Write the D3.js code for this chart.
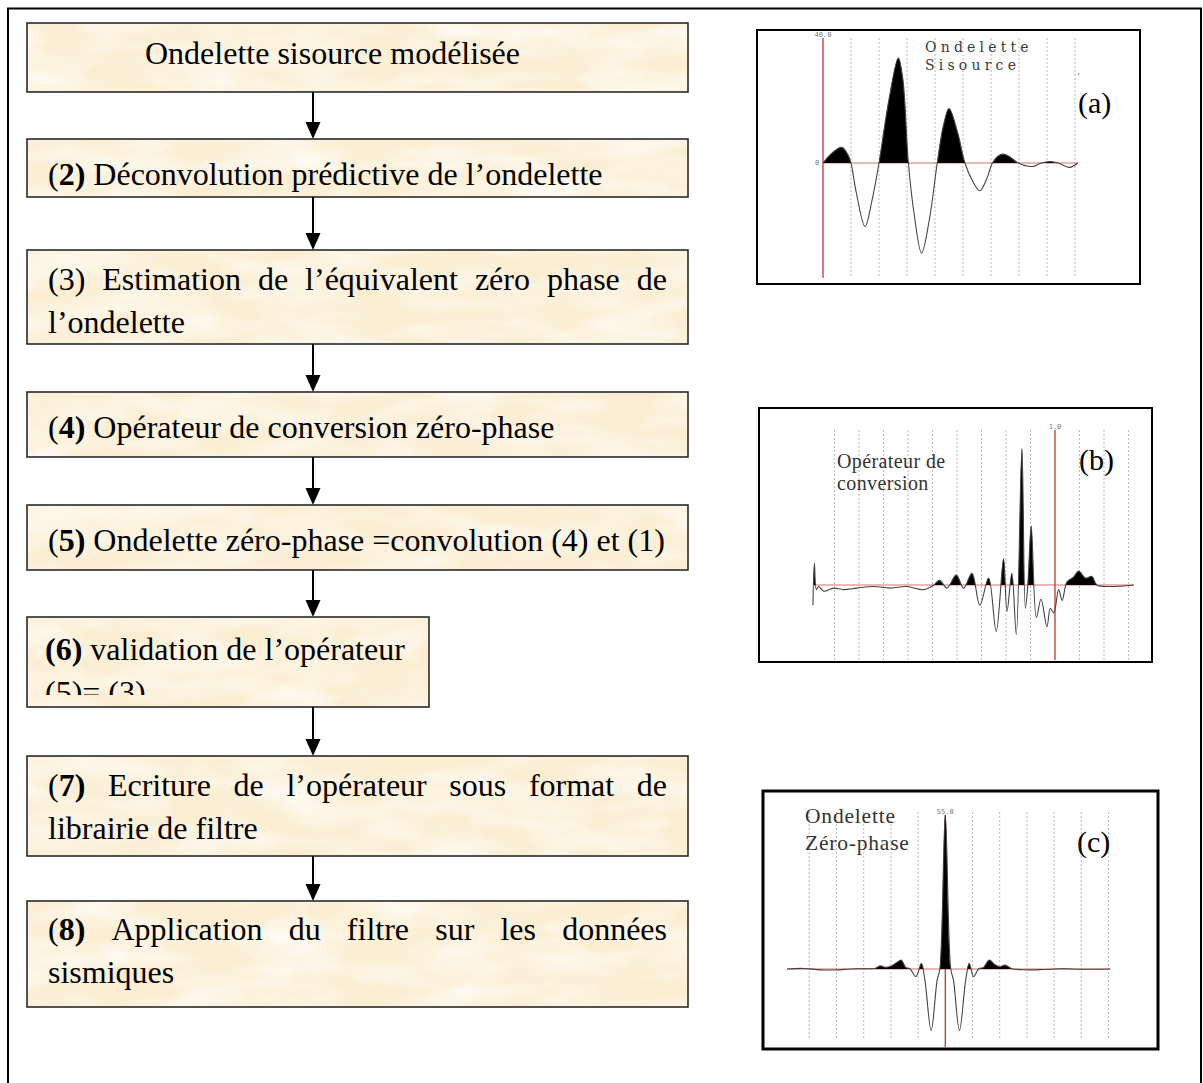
<!DOCTYPE html>
<html><head><meta charset="utf-8">
<script src="https://cdn.jsdelivr.net/npm/d3@7"></script>
<style>body{margin:0;background:#fff;overflow:hidden}</style>
</head><body>
<svg id="chart" width="1203" height="1083"></svg>
<script>
// ---------- DATA ----------
const stepTexts = [
  ["Ondelette sisource modélisée"],
  ["(**2)** Déconvolution prédictive de l’ondelette"],
  ["(3) Estimation de l’équivalent zéro phase de", "l’ondelette"],
  ["(**4)** Opérateur de conversion zéro-phase"],
  ["(**5)** Ondelette zéro-phase =convolution (4) et (1)"],
  ["**(6)** validation de l’opérateur", "(5)= (3)"],
  ["(**7)** Ecriture de l’opérateur sous format de", "librairie de filtre"],
  ["(**8)** Application du filtre sur les données", "sismiques"]
];
const stepJustify = [false, false, true, false, false, false, true, true];

const panelTitles = [["Ondelette", "Sisource"], ["Opérateur de", "conversion"], ["Ondelette", "Zéro-phase"]];
const panelLetters = ["(a)", "(b)", "(c)"];
const panelMaxLabels = ["40.0", "1.0", "55.0"];

// wavelet (a): [time in grid units, amplitude]
const waveA = [
  [0,0],[0.3,3],[0.67,5],[0.9,2.5],[1.0,0],
  [1.2,-10],[1.5,-20.3],[1.75,-12],[2.0,0],
  [2.35,20],[2.69,33.6],[2.85,27],[3.05,0],
  [3.25,-16],[3.52,-28.8],[3.8,-18],[4.08,0],
  [4.3,12],[4.5,17.4],[4.8,10],[5.07,0],
  [5.3,-5],[5.6,-8.9],[5.85,-5],[6.05,0],
  [6.25,2.2],[6.44,2.9],[6.7,1.8],[6.97,0],
  [7.5,-1.1],[7.8,0],[8.1,0.5],[8.4,0],[8.8,-1.4],[9.1,0]
];
// operator (b)
const waveB = [
  [-9.88,-0.13],[-9.82,0.14],[-9.74,-0.03],[-9.65,-0.01],[-9.44,-0.04],[-9.03,-0.02],
  [-8.62,-0.03],[-8.08,-0.02],[-7.40,-0.01],[-6.72,-0.02],[-6.04,-0.01],[-5.36,-0.03],
  [-4.95,0.0],[-4.71,0.03],[-4.41,-0.02],[-4.03,0.065],[-3.73,-0.02],[-3.39,0.075],
  [-3.07,-0.13],[-2.71,0.045],[-2.40,-0.30],[-2.10,0.17],[-1.96,-0.17],[-1.76,0.075],
  [-1.58,-0.32],[-1.35,0.88],[-1.21,-0.15],[-1.11,0.0],[-0.97,0.38],[-0.76,-0.21],
  [-0.57,-0.09],[-0.33,-0.27],[-0.19,-0.15],[-0.05,-0.18],[0.15,-0.03],[0.29,-0.1],
  [0.49,0.02],[0.75,0.05],[0.97,0.09],[1.24,0.045],[1.51,0.055],[1.71,0.0],[2.26,-0.01],[3.21,0.0]
];
// zero-phase wavelet (c)
const waveC = [
  [-5.82,0],[-5.2,0.2],[-4.6,-0.3],[-3.9,-0.3],[-3.5,0],[-3.0,0.1],[-2.6,0.2],
  [-2.39,1.1],[-2.2,0.6],[-2.0,1.0],[-1.8,2.2],[-1.62,3.2],[-1.45,0.5],[-1.3,0.1],
  [-1.08,-2.7],[-0.88,2.0],[-0.75,-4],[-0.52,-22],[-0.3,-4],[-0.2,0],[0,55],
  [0.2,0],[0.3,-4],[0.52,-22],[0.75,-4],[0.88,2.0],[1.04,-2.7],[1.23,0.1],[1.4,0.5],
  [1.62,3.2],[1.8,1.7],[2.0,0.8],[2.2,1.4],[2.45,0.1],[3.0,-0.3],[3.6,-0.2],[4.3,0.1],
  [5.0,-0.1],[6.07,0]
];
const waves = [waveA, waveB, waveC];
const gridTicks = [
  [1,2,3,4,5,6,7,8,9],
  [-9,-8,-7,-6,-5,-4,-3,-2,-1,1,2,3],
  [-5,-4,-3,-2,-1,1,2,3,4,5,6]
];

// ---------- LAYOUT ----------
const boxLayout = [
  {x:27, y:23,  w:661, h:69,  tx:145, base:[64]},
  {x:27, y:139, w:661, h:58,  tx:48,  base:[185]},
  {x:27, y:250, w:661, h:94,  tx:48,  base:[290,333]},
  {x:27, y:392, w:661, h:65,  tx:48,  base:[438]},
  {x:27, y:505, w:661, h:65,  tx:48,  base:[551]},
  {x:27, y:617, w:402, h:90,  tx:45,  base:[660,703], clipBottom:695},
  {x:27, y:756, w:661, h:100, tx:48,  base:[796,839]},
  {x:27, y:901, w:661, h:106, tx:48,  base:[940,983]}
];
const arrowX = 313;

const panelLayout = [
  {x:757, y:30,  w:383, h:254, bw:2,   xDom:[0,9],   xRng:[823,1075],   yDom:[0,40], yRng:[163,38],
   lineX:[823,1078], gridTop:38, gridBot:278, axisTop:38, axisBot:278,
   titleX:925, titleY:[52,70], letterX:1078, letterY:113},
  {x:759, y:408, w:393, h:254, bw:2,   xDom:[-9,3],  xRng:[834.5,1128.5], yDom:[0,1], yRng:[585,430],
   lineX:[813,1134], gridTop:430, gridBot:660, axisTop:430, axisBot:660,
   titleX:837, titleY:[468,490], letterX:1079, letterY:470},
  {x:763, y:791, w:395, h:258, bw:3,   xDom:[-5,6],  xRng:[809.3,1108.5], yDom:[0,55], yRng:[969,815],
   lineX:[787,1110], gridTop:812, gridBot:1040, axisTop:815, axisBot:1047,
   titleX:805, titleY:[823,850], letterX:1077, letterY:852}
];

// ---------- DRAW ----------
const svg = d3.select("#chart");
const defs = svg.append("defs");
const filt = defs.append("filter").attr("id","tex").attr("x",0).attr("y",0).attr("width","100%").attr("height","100%");
filt.append("feTurbulence").attr("type","fractalNoise").attr("baseFrequency","0.012 0.04").attr("numOctaves",3).attr("seed",7).attr("result","n");
filt.append("feColorMatrix").attr("in","n").attr("type","matrix")
  .attr("values","0 0 0 0 1  0 0 0 0 0.985  0 0 0 0 0.94  0 0 0 1.6 -0.55").attr("result","c");
filt.append("feComposite").attr("in","c").attr("in2","SourceGraphic").attr("operator","in");

// outer frame
svg.append("rect").attr("x",8).attr("y",8.5).attr("width",1193).attr("height",1090)
  .attr("fill","none").attr("stroke","#000").attr("stroke-width",2);

const serif = "'Liberation Serif','Times New Roman',serif";

function renderLine(g, str, x0, x1, baseline, justify) {
  const words = str.split(" ").filter(w => w.length);
  const nodes = words.map(w => {
    const t = g.append("text").attr("y", baseline).attr("font-family", serif)
      .attr("font-size", 32).attr("fill", "#000");
    w.split("**").forEach((seg, i) => {
      if (seg.length) t.append("tspan").attr("font-weight", i % 2 ? "bold" : "normal").text(seg);
    });
    return t;
  });
  const widths = nodes.map(n => n.node().getComputedTextLength());
  const total = d3.sum(widths);
  const gap = (justify && nodes.length > 1) ? (x1 - x0 - total) / (nodes.length - 1) : 8;
  let x = x0;
  nodes.forEach((n, i) => { n.attr("x", x); x += widths[i] + gap; });
}

stepTexts.forEach((lines, i) => {
  const L = boxLayout[i];
  const g = svg.append("g");
  g.append("rect").attr("x",L.x).attr("y",L.y).attr("width",L.w).attr("height",L.h)
    .attr("fill","#fbeed3");
  g.append("rect").attr("x",L.x).attr("y",L.y).attr("width",L.w).attr("height",L.h)
    .attr("fill","#fff").attr("filter","url(#tex)");
  g.append("rect").attr("x",L.x).attr("y",L.y).attr("width",L.w).attr("height",L.h)
    .attr("fill","none").attr("stroke","#2a2a2a").attr("stroke-width",1.6);
  let tg = g.append("g");
  if (L.clipBottom) {
    defs.append("clipPath").attr("id","clip"+i).append("rect")
      .attr("x",L.x).attr("y",L.y).attr("width",L.w).attr("height",L.clipBottom - L.y);
    tg.attr("clip-path","url(#clip"+i+")");
  }
  lines.forEach((ln, j) => {
    const just = stepJustify[i] && j < lines.length - 1;
    renderLine(tg, ln, L.tx, L.x + L.w - 21, L.base[j], just);
  });
  if (i < stepTexts.length - 1) {
    const y0 = L.y + L.h, y1 = boxLayout[i+1].y;
    svg.append("line").attr("x1",arrowX).attr("x2",arrowX).attr("y1",y0).attr("y2",y1-14)
      .attr("stroke","#000").attr("stroke-width",2);
    svg.append("path").attr("d",`M${arrowX-7.5},${y1-17}L${arrowX+7.5},${y1-17}L${arrowX},${y1}Z`).attr("fill","#000");
  }
});

// panels
panelLayout.forEach((P, k) => {
  const g = svg.append("g");
  const x = d3.scaleLinear().domain(P.xDom).range(P.xRng);
  const y = d3.scaleLinear().domain(P.yDom).range(P.yRng);
  const y0 = y(0);
  g.append("rect").attr("x",P.x).attr("y",P.y).attr("width",P.w).attr("height",P.h)
    .attr("fill","#fff").attr("stroke","#000").attr("stroke-width",P.bw);
  g.selectAll(".grid").data(gridTicks[k]).join("line")
    .attr("x1",d=>x(d)).attr("x2",d=>x(d)).attr("y1",P.gridTop).attr("y2",P.gridBot)
    .attr("stroke","#b8b8b8").attr("stroke-width",1).attr("stroke-dasharray","2,2");
  g.append("line").attr("x1",P.lineX[0]).attr("x2",P.lineX[1]).attr("y1",y0).attr("y2",y0)
    .attr("stroke","#d9726a").attr("stroke-width",1.2);
  g.append("line").attr("x1",x(0)).attr("x2",x(0)).attr("y1",P.axisTop).attr("y2",P.axisBot)
    .attr("stroke","#c0392b").attr("stroke-width",1.3);
  g.append("text").attr("x",x(0)).attr("y",P.axisTop-1).attr("text-anchor","middle")
    .attr("font-family","'DejaVu Sans Mono',monospace").attr("font-size",7).attr("fill","#777")
    .text(panelMaxLabels[k]);
  if (k === 0) {
    g.append("text").attr("x",x(0)-6).attr("y",y0+2).attr("text-anchor","middle")
      .attr("font-family","'DejaVu Sans Mono',monospace").attr("font-size",7).attr("fill","#777").text("0");
  }
  const curve = d3.curveCatmullRom.alpha(0.5);
  const clipId = "pc" + k;
  defs.append("clipPath").attr("id",clipId).append("rect")
    .attr("x",P.x).attr("y",P.y).attr("width",P.w).attr("height",y0 - P.y);
  const area = d3.area().x(d=>x(d[0])).y0(y0).y1(d=>y(d[1])).curve(curve);
  g.append("path").datum(waves[k]).attr("d",area).attr("fill","#000").attr("clip-path","url(#"+clipId+")");
  const line = d3.line().x(d=>x(d[0])).y(d=>y(d[1])).curve(curve);
  g.append("path").datum(waves[k]).attr("d",line).attr("fill","none")
    .attr("stroke","#444").attr("stroke-width",1.1);
  panelTitles[k].forEach((t, j) => {
    const tt = g.append("text").attr("x",P.titleX).attr("y",P.titleY[j]).attr("fill","#333").text(t);
    if (k === 0) tt.attr("font-family","'DejaVu Serif',serif").attr("font-size",14).attr("letter-spacing",4.2).attr("fill","#3a3a3a");
    else if (k === 1) tt.attr("font-family",serif).attr("font-size",20).attr("letter-spacing",0.4);
    else tt.attr("font-family",serif).attr("font-size",21.5).attr("letter-spacing",0.8);
  });
  g.append("text").attr("x",P.letterX).attr("y",P.letterY).attr("font-family",serif)
    .attr("font-size",30).attr("fill","#000").text(panelLetters[k]);
  if (k === 0) {
    g.append("text").attr("x",1077).attr("y",78).attr("font-family",serif).attr("font-size",9)
      .attr("fill","#555").text("‘");
  }
});
</script>
</body></html>
